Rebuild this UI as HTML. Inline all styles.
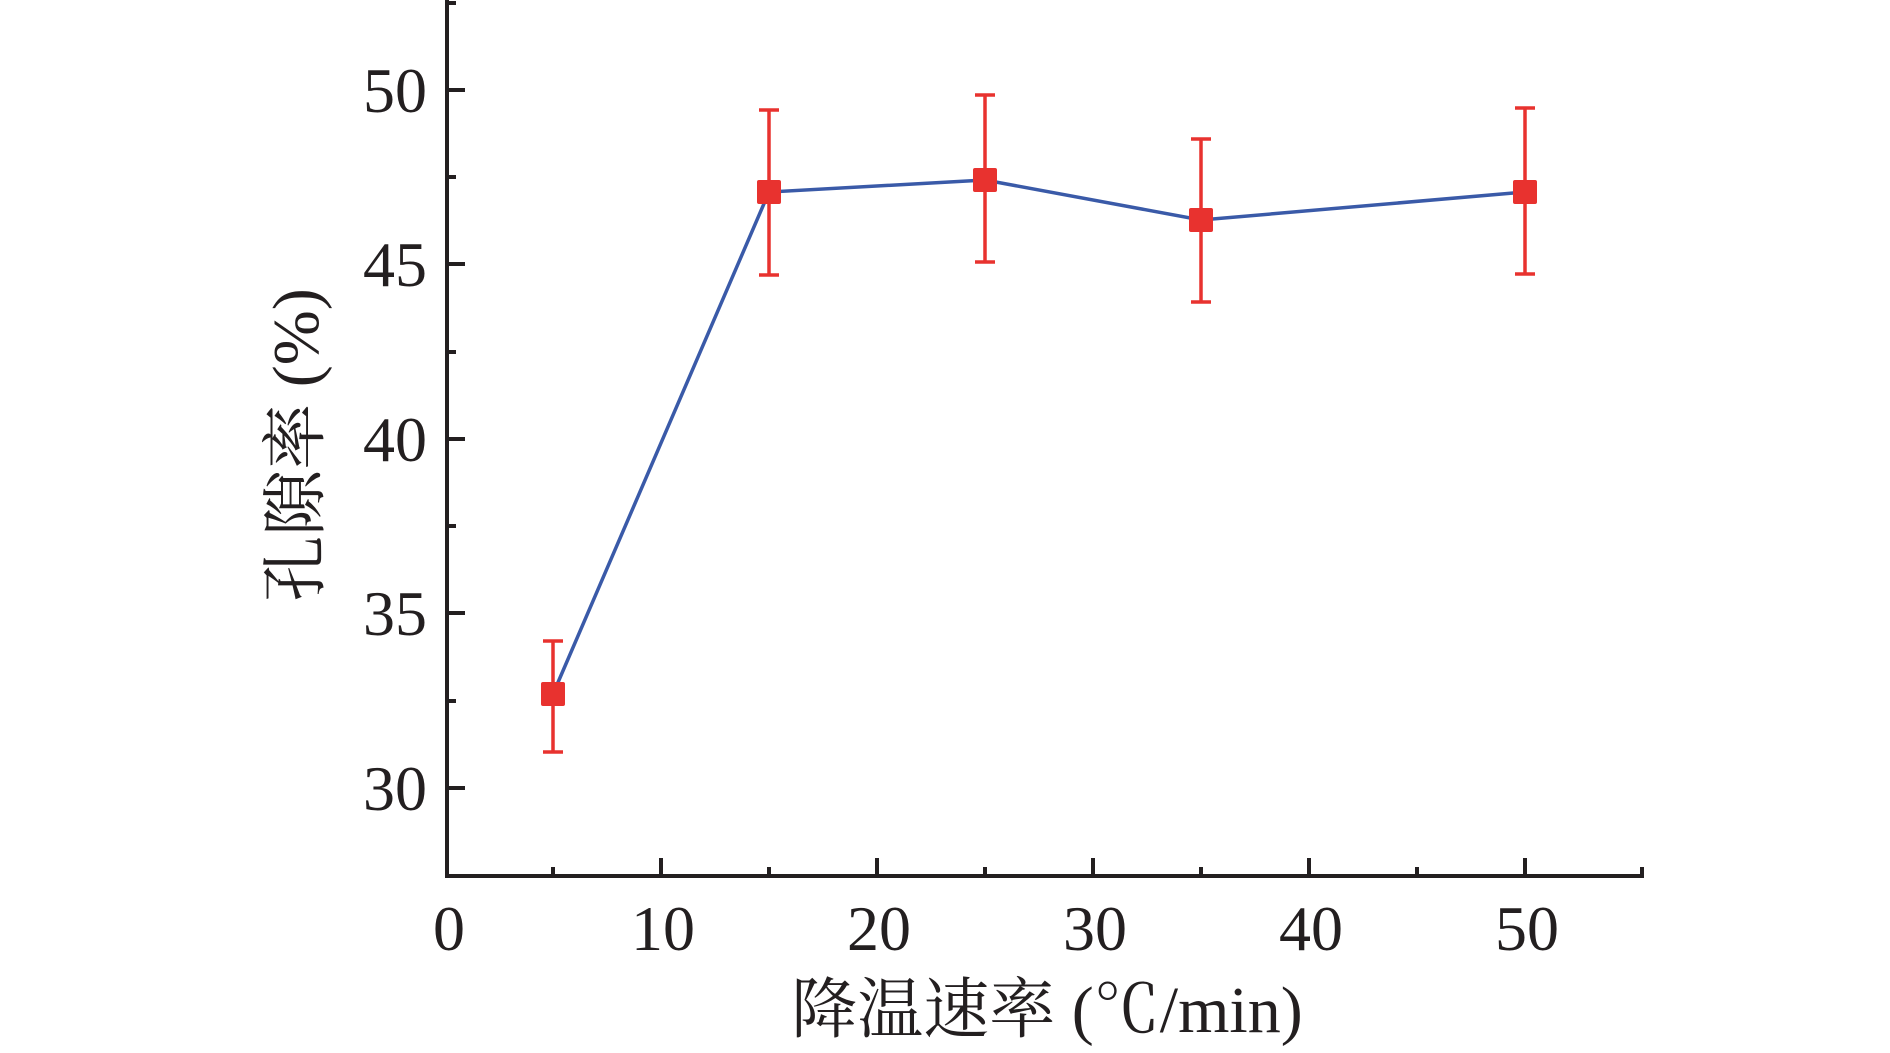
<!DOCTYPE html>
<html><head><meta charset="utf-8"><style>html,body{margin:0;padding:0;background:#fff}
.n{font-family:"Liberation Serif","Times New Roman",serif;font-size:64px;fill:#231f20}
.t{font-family:"Liberation Serif","Noto Serif CJK SC",serif;font-size:66px;fill:#231f20}
</style></head>
<body>
<svg width="1890" height="1048" viewBox="0 0 1890 1048" xmlns="http://www.w3.org/2000/svg">
<g stroke="#231f20" stroke-width="4" fill="none">
<line x1="447" y1="0" x2="447" y2="878"/>
<line x1="445" y1="876" x2="1644" y2="876"/>
<line x1="447" y1="788" x2="465" y2="788"/>
<line x1="447" y1="613" x2="465" y2="613"/>
<line x1="447" y1="439" x2="465" y2="439"/>
<line x1="447" y1="264" x2="465" y2="264"/>
<line x1="447" y1="90" x2="465" y2="90"/>
<line x1="447" y1="701" x2="456" y2="701"/>
<line x1="447" y1="526" x2="456" y2="526"/>
<line x1="447" y1="352" x2="456" y2="352"/>
<line x1="447" y1="177" x2="456" y2="177"/>
<line x1="447" y1="3" x2="456" y2="3"/>
<line x1="661" y1="876" x2="661" y2="858"/>
<line x1="877" y1="876" x2="877" y2="858"/>
<line x1="1093" y1="876" x2="1093" y2="858"/>
<line x1="1309" y1="876" x2="1309" y2="858"/>
<line x1="1525" y1="876" x2="1525" y2="858"/>
<line x1="553" y1="876" x2="553" y2="867"/>
<line x1="769" y1="876" x2="769" y2="867"/>
<line x1="985" y1="876" x2="985" y2="867"/>
<line x1="1201" y1="876" x2="1201" y2="867"/>
<line x1="1417" y1="876" x2="1417" y2="867"/>
<line x1="1642" y1="876" x2="1642" y2="867"/>
</g>
<g class="n" text-anchor="end">
<text x="427" y="810">30</text>
<text x="427" y="635">35</text>
<text x="427" y="461">40</text>
<text x="427" y="286">45</text>
<text x="427" y="112">50</text>
</g>
<g class="n" text-anchor="middle">
<text x="449" y="950">0</text>
<text x="663" y="950">10</text>
<text x="879" y="950">20</text>
<text x="1095" y="950">30</text>
<text x="1311" y="950">40</text>
<text x="1527" y="950">50</text>
</g>
<text x="1047" y="1032" text-anchor="middle" class="t">降温速率 (℃/min)</text>
<text transform="translate(318,445) rotate(-90)" text-anchor="middle" class="t">孔隙率 (%)</text>
<polyline points="553,694 769,192 985,180 1201,220 1525,192" fill="none" stroke="#3a5aa8" stroke-width="3.5"/>
<g stroke="#e8322f" stroke-width="3.5">
<line x1="553" y1="641" x2="553" y2="752"/><line x1="543" y1="641" x2="563" y2="641"/><line x1="543" y1="752" x2="563" y2="752"/>
<line x1="769" y1="110" x2="769" y2="275"/><line x1="759" y1="110" x2="779" y2="110"/><line x1="759" y1="275" x2="779" y2="275"/>
<line x1="985" y1="95" x2="985" y2="262"/><line x1="975" y1="95" x2="995" y2="95"/><line x1="975" y1="262" x2="995" y2="262"/>
<line x1="1201" y1="139" x2="1201" y2="302"/><line x1="1191" y1="139" x2="1211" y2="139"/><line x1="1191" y1="302" x2="1211" y2="302"/>
<line x1="1525" y1="108" x2="1525" y2="274"/><line x1="1515" y1="108" x2="1535" y2="108"/><line x1="1515" y1="274" x2="1535" y2="274"/>
</g>
<g fill="#e8322f">
<rect x="541" y="682" width="24" height="24" rx="2"/>
<rect x="757" y="180" width="24" height="24" rx="2"/>
<rect x="973" y="168" width="24" height="24" rx="2"/>
<rect x="1189" y="208" width="24" height="24" rx="2"/>
<rect x="1513" y="180" width="24" height="24" rx="2"/>
</g>
</svg>
</body></html>
